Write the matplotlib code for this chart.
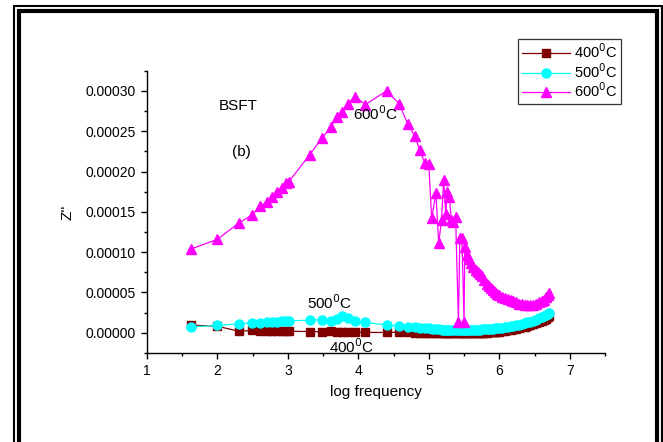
import matplotlib
matplotlib.use("Agg")
import matplotlib.pyplot as plt
from matplotlib.patches import Rectangle
from matplotlib.ticker import MultipleLocator, FormatStrFormatter
import numpy as np

plt.rcParams['font.family'] = ['Liberation Sans', 'DejaVu Sans']

# log frequency (shared by all three temperatures)
log_f = [1.63, 2.00, 2.30, 2.49, 2.60, 2.70, 2.78, 2.85, 2.91, 2.97,
         3.01, 3.31, 3.48, 3.61, 3.69, 3.77, 3.85, 3.95, 4.10, 4.40,
         4.58, 4.70, 4.80, 4.87, 4.94, 5.00, 5.04, 5.10, 5.14, 5.18,
         5.21, 5.24, 5.26, 5.29, 5.32, 5.34, 5.38, 5.42, 5.44, 5.47,
         5.50, 5.51, 5.54, 5.57, 5.60, 5.63, 5.67, 5.70, 5.73, 5.76,
         5.79, 5.82, 5.85, 5.88, 5.91, 5.94, 5.97, 6.00, 6.04, 6.08,
         6.12, 6.16, 6.20, 6.24, 6.28, 6.32, 6.36, 6.40, 6.44, 6.48,
         6.52, 6.56, 6.60, 6.63, 6.66, 6.69, 6.71]

# Z'' values in units of 1e-5
z400 = [0.95, 0.82, 0.20, 0.29, 0.26, 0.25, 0.24, 0.23, 0.22, 0.21,
        0.20, 0.16, 0.12, 0.20, 0.14, 0.10, 0.08, 0.07, 0.06, 0.04,
        0.08, 0.05, 0.02, 0.00, -0.01, -0.02, -0.03, -0.03, -0.03, -0.04,
        -0.04, -0.04, -0.04, -0.04, -0.04, -0.04, -0.04, -0.04, -0.04, -0.04,
        -0.04, -0.04, -0.04, -0.04, -0.03, -0.03, -0.02, -0.02, -0.01, 0.00,
        0.01, 0.02, 0.04, 0.06, 0.08, 0.10, 0.13, 0.16, 0.20, 0.25,
        0.30, 0.36, 0.43, 0.50, 0.58, 0.66, 0.75, 0.85, 0.96, 1.08,
        1.21, 1.35, 1.50, 1.63, 1.76, 1.90, 2.05]

z500 = [0.74, 0.91, 1.11, 1.20, 1.24, 1.32, 1.36, 1.40, 1.44, 1.48,
        1.48, 1.57, 1.62, 1.42, 1.73, 2.10, 1.88, 1.50, 1.31, 0.95,
        0.82, 0.74, 0.66, 0.60, 0.56, 0.54, 0.48, 0.44, 0.42, 0.40,
        0.40, 0.38, 0.38, 0.37, 0.36, 0.36, 0.35, 0.35, 0.35, 0.34,
        0.34, 0.34, 0.35, 0.35, 0.36, 0.37, 0.38, 0.39, 0.41, 0.42,
        0.44, 0.46, 0.48, 0.50, 0.52, 0.55, 0.58, 0.61, 0.65, 0.70,
        0.75, 0.80, 0.87, 0.94, 1.02, 1.10, 1.20, 1.30, 1.40, 1.52,
        1.65, 1.78, 1.92, 2.05, 2.18, 2.32, 2.45]

z600 = [10.4, 11.6, 13.6, 14.6, 15.7, 16.2, 16.8, 17.4, 18.0, 18.6,
        18.7, 22.1, 24.1, 25.5, 26.8, 27.4, 28.4, 29.3, 28.3, 30.0,
        28.4, 25.9, 24.4, 22.7, 21.1, 20.9, 14.2, 17.3, 11.1, 14.0,
        19.0, 14.7, 17.5, 16.9, 14.0, 13.7, 14.4, 1.4, 11.7, 11.7,
        1.4, 10.7, 9.6, 9.1, 8.6, 8.2, 7.8, 7.6, 7.3, 7.0,
        6.6, 6.1, 5.8, 5.5, 5.3, 5.0, 4.8, 4.7, 4.5, 4.3,
        4.2, 4.1, 3.9, 3.8, 3.6, 3.6, 3.5, 3.5, 3.5, 3.5,
        3.6, 3.8, 3.9, 4.1, 4.4, 4.7, 4.9]

labels = ['400$^0$C', '500$^0$C', '600$^0$C']

fig = plt.figure(figsize=(6.63, 4.42), dpi=100)
ax = fig.add_axes([0.2217, 0.2014, 0.6908, 0.6386])

x = np.array(log_f)
ax.plot(x, np.array(z400) * 1e-5, color='#800000', lw=0.9, marker='s', ms=6, label=labels[0])
ax.plot(x, np.array(z500) * 1e-5, color='#00FFFF', lw=0.9, marker='o', ms=6.5, label=labels[1])
ax.plot(x, np.array(z600) * 1e-5, color='#FF00FF', lw=0.9, marker='^', ms=7, label=labels[2])

ax.set_xlim(1, 7.5)
ax.set_ylim(-0.000025, 0.000325)
ax.xaxis.set_major_locator(MultipleLocator(1))
ax.xaxis.set_minor_locator(MultipleLocator(0.5))
ax.yaxis.set_major_locator(MultipleLocator(0.00005))
ax.yaxis.set_minor_locator(MultipleLocator(0.000025))
ax.yaxis.set_major_formatter(FormatStrFormatter('%.5f'))
ax.spines['top'].set_visible(False)
ax.spines['right'].set_visible(False)
for s in ('left', 'bottom'):
    ax.spines[s].set_linewidth(1.0)
ax.tick_params(which='major', direction='out', length=4, width=1, labelsize=10, pad=4)
ax.tick_params(which='minor', direction='out', length=2.5, width=1)

ax.set_xlabel('log frequency', fontsize=11, labelpad=5)
ax.set_ylabel("Z''", fontsize=11, labelpad=8)

fs = 11
ax.text(2.29, 0.000281, 'BSFT', fontsize=fs, ha='center', va='center')
ax.text(2.34, 0.000224, '(b)', fontsize=fs, ha='center', va='center')
ax.text(4.24, 0.000272, '600$^0$C', fontsize=fs, ha='center', va='center')
ax.text(3.59, 0.0000375, '500$^0$C', fontsize=fs, ha='center', va='center')
ax.text(3.90, -0.0000169, '400$^0$C', fontsize=fs, ha='center', va='center')

leg = ax.legend(loc='upper right', bbox_to_anchor=(621 / 663, 1 - 39 / 442),
                bbox_transform=fig.transFigure, fontsize=10.5, frameon=True,
                fancybox=False, handlelength=3.3, handletextpad=0.25,
                borderpad=0.25, labelspacing=0.05, borderaxespad=0)
leg.get_frame().set_edgecolor('black')
leg.get_frame().set_linewidth(0.9)

# double page border
W, H = 663.0, 442.0
fig.add_artist(Rectangle((14 / W, -0.1), (662 - 14) / W, (H - 6) / H + 0.1,
                         transform=fig.transFigure, fill=False, ec='black', lw=1.5))
fig.add_artist(Rectangle((19 / W, -0.1), (657 - 19) / W, (H - 11) / H + 0.1,
                         transform=fig.transFigure, fill=False, ec='black', lw=3.0))

fig.savefig('out.png', dpi=100)
